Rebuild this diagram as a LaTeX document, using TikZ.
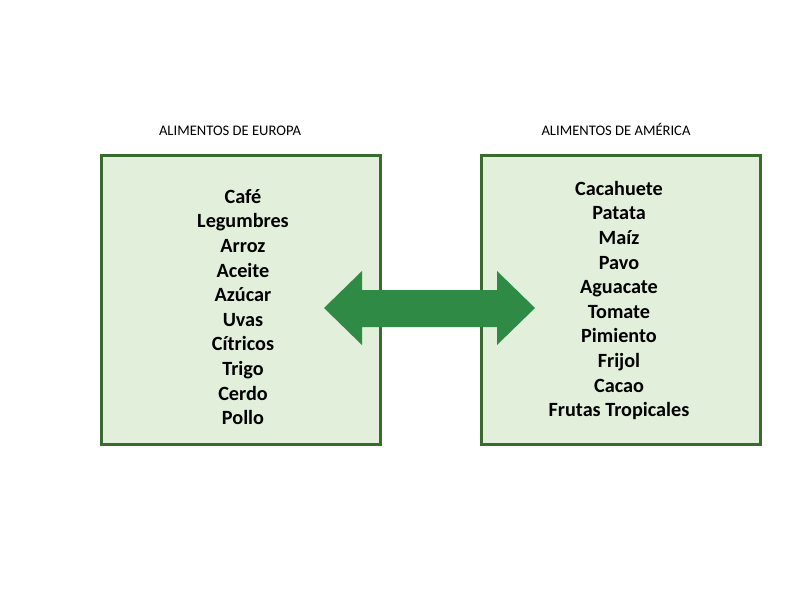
\documentclass[tikz,border=0pt]{standalone}
\usepackage{fontspec}
\setmainfont{Carlito}
\definecolor{boxfill}{HTML}{E2EFDA}
\definecolor{boxline}{HTML}{3A6B2E}
\definecolor{arrowgreen}{HTML}{2E8A45}
\tikzset{
  foodbox/.style={draw=boxline, line width=3pt, fill=boxfill},
  header/.style={font=\fontsize{14.6}{17}\selectfont, text=black, anchor=base},
  foodlist/.style={font=\bfseries\fontsize{20.2}{24.6}\selectfont, align=center, text=black, inner sep=0pt}
}
\begin{document}
\begin{tikzpicture}[x=1pt,y=-1pt]
\useasboundingbox (0,0) rectangle (800,600);
\fill[white] (0,0) rectangle (800,600);
% boxes
\draw[foodbox] (101.5,155.5) rectangle (380,444) node[pos=0.5] (eurobox) {};
\draw[foodbox] (481.5,155.5) rectangle (760,444) node[pos=0.5] (amerbox) {};
% headers
\node[header] (eurohead) at (230,135.5) {ALIMENTOS DE EUROPA};
\node[header] (amerhead) at (616,135.5) {ALIMENTOS DE AMÉRICA};
% lists
\node[foodlist] (eurolist) at (243,307) {Café\\Legumbres\\Arroz\\Aceite\\Azúcar\\Uvas\\Cítricos\\Trigo\\Cerdo\\Pollo};
\node[foodlist] (amerlist) at (619,300.5) {Cacahuete\\Patata\\Maíz\\Pavo\\Aguacate\\Tomate\\Pimiento\\Frijol\\Cacao\\Frutas Tropicales};
% double arrow
\fill[arrowgreen] (324,308) -- (362,271) -- (362,290) -- (497,290) -- (497,271) -- (535,308)
  -- (497,345) -- (497,327) -- (362,327) -- (362,345) -- cycle;
\end{tikzpicture}
\end{document}
